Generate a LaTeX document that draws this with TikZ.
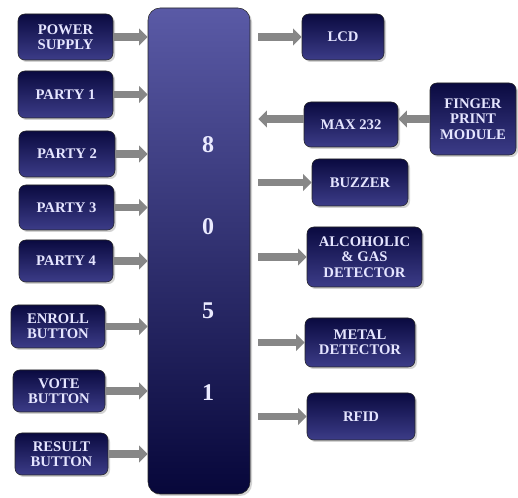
\documentclass[tikz,border=0pt]{standalone}
\usepackage{fontspec}
\setmainfont{Liberation Serif}
\usetikzlibrary{arrows.meta,positioning,shadows}

\definecolor{navytop}{HTML}{0A0A40}
\definecolor{navybot}{HTML}{3C3C88}
\definecolor{cputop}{HTML}{5A5AA6}
\definecolor{cpubot}{HTML}{07073A}
\definecolor{arrowgray}{HTML}{878787}

\begin{document}
\begin{tikzpicture}[
    x = 0.75pt, y = -0.75pt, % one unit per pixel, y downwards
    sz/.style 2 args = {minimum width=#1*0.75pt, minimum height=#2*0.75pt},
    blk/.style = {
        draw = black!85,
        rounded corners = 5pt,
        top color = navytop,
        bottom color = navybot,
        text = white!90!blue,
        font = \fontsize{11}{11.5}\selectfont\bfseries,
        align = center,
        inner sep = 0pt,
        drop shadow = {shadow xshift=1.5pt, shadow yshift=-1.5pt, fill=black!35}
    },
    digit/.style = {text=white!92!blue, font=\fontsize{18}{18}\selectfont\bfseries},
    flow/.style = {draw=arrowgray, line width=5.5pt, -{Triangle[length=6.5pt,width=12.5pt]}} % block arrow
    ]

    \useasboundingbox (0,0) rectangle (518,498);

    % controller
    \node[blk, sz={102}{486}, rounded corners=9pt, top color=cputop, bottom color=cpubot] (main) at (199,251) {};
    \foreach \dg/\yy in {8/145,0/227,5/311,1/393}
        \node[digit] (dig\dg) at (208,\yy) {\dg};

    % inputs
    \node[blk, sz={95}{46}] (pwr) at (65.5,37) {POWER\\SUPPLY};
    \node[blk, sz={95}{47}] (p1) at (65.5,94.5) {PARTY 1};
    \node[blk, sz={96}{46}] (p2) at (67,154) {PARTY 2};
    \node[blk, sz={95}{45}] (p3) at (66.5,207.5) {PARTY 3};
    \node[blk, sz={94}{42}] (p4) at (66,261) {PARTY 4};
    \node[blk, sz={94}{43}] (enroll) at (58,326.5) {ENROLL\\BUTTON};
    \node[blk, sz={92}{42}] (vote) at (59,391) {VOTE\\BUTTON};
    \node[blk, sz={93}{42}] (result) at (61.5,454) {RESULT\\BUTTON};

    % peripherals
    \node[blk, sz={82}{46}] (lcd) at (343,37) {LCD};
    \node[blk, sz={94}{45}] (max) at (351,124.5) {MAX 232};
    \node[blk, sz={86}{72}] (finger) at (473,119) {FINGER\\PRINT\\MODULE};
    \node[blk, sz={96}{47}] (buzzer) at (360,182.5) {BUZZER};
    \node[blk, sz={115}{60}] (gas) at (364.5,257) {ALCOHOLIC\\\& GAS\\DETECTOR};
    \node[blk, sz={110}{49}] (metal) at (360,342.5) {METAL\\DETECTOR};
    \node[blk, sz={108}{47}] (rfid) at (361,416.5) {RFID};

    \draw[flow] (pwr.east) -- (pwr.east -| main.west);
    \draw[flow] (p1.east) -- (p1.east -| main.west);
    \draw[flow] (p2.east) -- (p2.east -| main.west);
    \draw[flow] (p3.east) -- (p3.east -| main.west);
    \draw[flow] (p4.east) -- (p4.east -| main.west);
    \draw[flow] (enroll.east) -- (enroll.east -| main.west);
    \draw[flow] (vote.east) -- (vote.east -| main.west);
    \draw[flow] (result.east) -- (result.east -| main.west);

    \draw[flow, shorten <=6pt] (lcd.west -| main.east) -- (lcd.west);
    \draw[flow, shorten >=6pt] (finger.west -| max.west) -- (finger.west -| main.east);
    \draw[flow] (finger.west) -- (finger.west -| max.east);
    \draw[flow, shorten <=6pt] (buzzer.west -| main.east) -- (buzzer.west);
    \draw[flow, shorten <=6pt] (gas.west -| main.east) -- (gas.west);
    \draw[flow, shorten <=6pt] (metal.west -| main.east) -- (metal.west);
    \draw[flow, shorten <=6pt] (rfid.west -| main.east) -- (rfid.west);
\end{tikzpicture}
\end{document}
